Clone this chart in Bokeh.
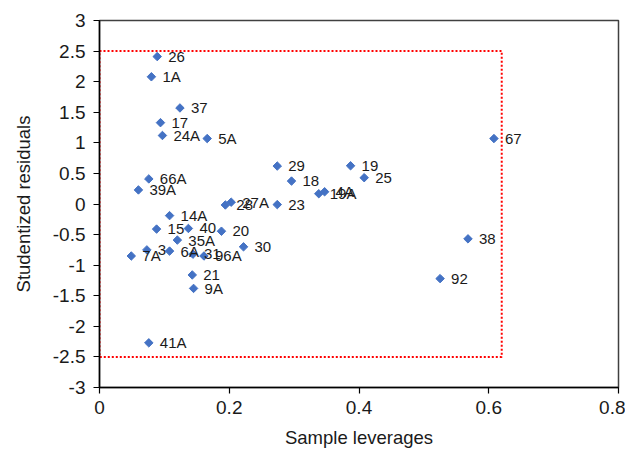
import math
from bokeh.plotting import figure
from bokeh.models import ColumnDataSource, Range1d, FixedTicker
from bokeh.core.properties import value
from bokeh.embed import file_html
from bokeh.resources import INLINE

names = ["26", "1A", "37", "17", "24A", "5A", "67", "66A", "39A", "29", "18", "19", "25",
         "19A", "4A", "28", "27A", "23", "14A", "15", "40", "20", "35A", "7A", "3", "6A",
         "31", "96A", "30", "38", "21", "92", "9A", "41A"]
leverage = [0.089, 0.080, 0.124, 0.094, 0.097, 0.166, 0.608, 0.076, 0.060, 0.274, 0.296, 0.387, 0.408,
            0.338, 0.347, 0.194, 0.203, 0.274, 0.108, 0.088, 0.137, 0.188, 0.120, 0.049, 0.073, 0.108,
            0.144, 0.161, 0.222, 0.568, 0.143, 0.525, 0.145, 0.076]
resid = [2.41, 2.08, 1.57, 1.33, 1.12, 1.07, 1.07, 0.41, 0.23, 0.62, 0.375, 0.625, 0.43,
         0.168, 0.20, -0.016, 0.03, -0.01, -0.19, -0.41, -0.40, -0.445, -0.59, -0.85, -0.75, -0.77,
         -0.82, -0.85, -0.70, -0.57, -1.16, -1.22, -1.38, -2.27]

lev_limit = 0.62
resid_limit = 2.5

x_ticks = [0, 0.2, 0.4, 0.6, 0.8]
x_tick_labels = ["0", "0.2", "0.4", "0.6", "0.8"]
y_ticks = [-3, -2.5, -2, -1.5, -1, -0.5, 0, 0.5, 1, 1.5, 2, 2.5, 3]
y_tick_labels = ["-3", "-2.5", "-2", "-1.5", "-1", "-0.5", "0", "0.5", "1", "1.5", "2", "2.5", "3"]

FONT = "Liberation Sans"

p = figure(width=625, height=450, x_range=Range1d(0, 0.8), y_range=Range1d(-3, 3),
           output_backend="svg", toolbar_location=None,
           min_border_left=99, min_border_right=7, min_border_top=20, min_border_bottom=58)
p.xgrid.visible = False
p.ygrid.visible = False
p.outline_line_color = "#404040"
p.outline_line_width = 1.5
p.background_fill_color = "white"
p.border_fill_color = "white"

for ax, ticks, labels in ((p.xaxis[0], x_ticks, x_tick_labels), (p.yaxis[0], y_ticks, y_tick_labels)):
    ax.ticker = FixedTicker(ticks=ticks)
    ax.major_label_overrides = {t: l for t, l in zip(ticks, labels)}
    ax.major_tick_out = 6
    ax.major_tick_in = 0
    ax.minor_tick_line_color = None
    ax.axis_line_color = "#000000"
    ax.axis_line_width = 1.5
    ax.major_tick_line_color = "#000000"
    ax.major_tick_line_width = 1.2
    ax.major_label_text_font = FONT
    ax.major_label_text_font_size = "19px"
    ax.major_label_text_color = "#1a1a1a"
    ax.axis_label_text_font = FONT
    ax.axis_label_text_font_size = "18.5px"
    ax.axis_label_text_font_style = "normal"
    ax.axis_label_text_color = "#1a1a1a"

p.xaxis.axis_label = "Sample leverages"
p.yaxis.axis_label = "Studentized residuals"
p.xaxis.major_label_standoff = 7
p.yaxis.major_label_standoff = 8
p.yaxis.axis_label_standoff = 16
p.xaxis.axis_label_standoff = 10

# limit box
box_x = [0, lev_limit, lev_limit, 0, 0]
box_y = [resid_limit, resid_limit, -resid_limit, -resid_limit, resid_limit]
p.line(x=box_x, y=box_y, line_color="#FF0000", line_width=2, line_dash="2 2")

src = ColumnDataSource(data=dict(x=leverage, y=resid, name=names))
p.scatter(x="x", y="y", source=src, marker="square", angle=math.pi / 4, size=6,
          fill_color="#4472C4", line_color="#4472C4")
p.text(x="x", y="y", text="name", source=src, x_offset=11, text_baseline="middle",
       text_font=value(FONT), text_font_size="15px", text_color="#1a1a1a")

open("out.html", "w").write(file_html(p, INLINE))
